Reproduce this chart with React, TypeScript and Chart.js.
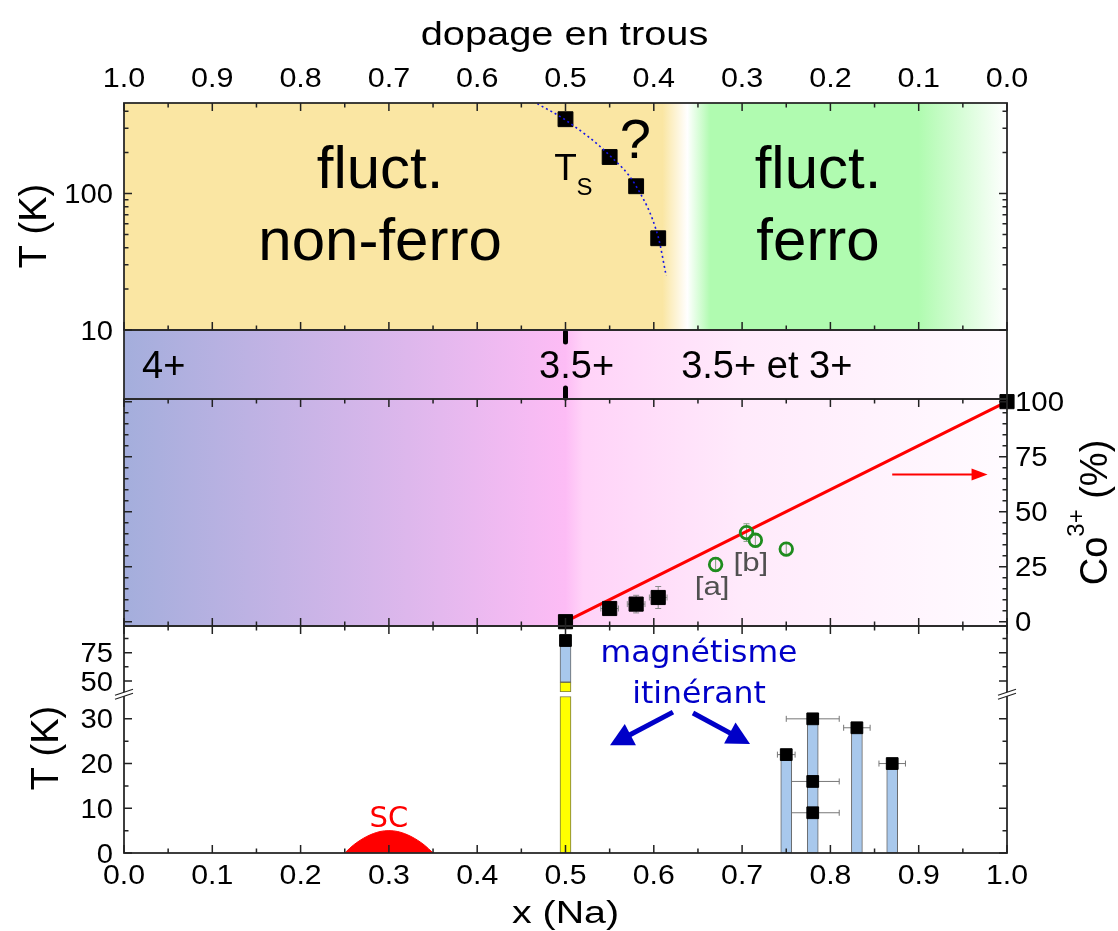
import React, { useEffect, useRef } from 'react';
import { Chart, registerables } from 'chart.js';

Chart.register(...registerables);

// ---------------- data ----------------
const xTickValues = [0, 0.1, 0.2, 0.3, 0.4, 0.5, 0.6, 0.7, 0.8, 0.9, 1.0];
const xTickLabels = ['0.0', '0.1', '0.2', '0.3', '0.4', '0.5', '0.6', '0.7', '0.8', '0.9', '1.0'];
const xMinorTicks = [0.05, 0.15, 0.25, 0.35, 0.45, 0.55, 0.65, 0.75, 0.85, 0.95];
const dopageTickValues = [1.0, 0.9, 0.8, 0.7, 0.6, 0.5, 0.4, 0.3, 0.2, 0.1, 0.0];
const dopageTickLabels = ['1.0', '0.9', '0.8', '0.7', '0.6', '0.5', '0.4', '0.3', '0.2', '0.1', '0.0'];

const topRange = [10, 460];
const topTMajor = [10, 100];
const topTMinor = [20, 30, 40, 50, 60, 70, 80, 90, 200, 300, 400];

const coRange = [-1.95, 101.2];
const coMajor = [0, 25, 50, 75, 100];
const coMinor = [5, 10, 15, 20, 30, 35, 40, 45, 55, 60, 65, 70, 80, 85, 90, 95];

const botUpperRange = [40.3, 98.6];
const botUpperMajor = [50, 75];
const botUpperMinor = [62.5, 87.5];
const botLowerRange = [0, 36];
const botLowerMajor = [0, 10, 20, 30];
const botLowerMinor = [5, 15, 25];

// T_S (structural transition) points and dotted guide
const tsX = [0.5, 0.55, 0.58, 0.605];
const tsT = [350, 185, 113, 47];
const tsCurveX = [0.468, 0.5, 0.55, 0.58, 0.605, 0.614];
const tsCurveT = [455, 345, 190, 113, 48, 25];

// Co3+ fraction
const co3LineX = [0.5, 1.0];
const co3LineY = [0, 100];
const co3SqX = [0.5, 0.55, 0.58, 0.605, 1.0];
const co3SqY = [0, 6, 8, 11, 100];
const co3SqXErr = [0, 0.01, 0.01, 0.01, 0];
const co3SqYErr = [0, 2, 4, 5, 0];
const co3CircX = [0.67, 0.705, 0.715, 0.75];
const co3CircY = [26, 40.5, 37, 33];
const co3CircYErr = [3, 4, 3, 3];

// bottom panel
const magBarX = [0.75, 0.78, 0.83, 0.87];
const magBarT = [22, 30, 28, 20];
const magPtX = [0.75, 0.78, 0.78, 0.78, 0.83, 0.87];
const magPtT = [22, 30, 16, 9, 28, 20];
const magPtXErr = [0.01, 0.03, 0.03, 0.03, 0.015, 0.015];
const na05X = 0.5;
const na05LowerYellow = [0, 35];
const na05UpperYellow = [40.3, 48.9];
const na05UpperBlue = [48.9, 81];
const na05PtT = [85.8];
const scX = [0.25, 0.26, 0.275, 0.29, 0.3, 0.31, 0.325, 0.34, 0.35];
const scT = [0, 1.8, 3.7, 4.8, 5, 4.8, 3.7, 1.8, 0];

// ---------------- styles ----------------
const W = 1118;
const H = 931;
const SANS = '"Liberation Sans", Arial, Helvetica, sans-serif';
const DEJAVU = '"DejaVu Sans", sans-serif';
const BLUE = '#0000C8';
const topBgStops: [number, string][] = [
  [0, '#FAE6A3'], [0.61, '#FAE6A3'], [0.638, '#FFFFFF'], [0.664, '#B0FBB0'], [0.9, '#B0FBB0'], [1, '#FFFFFF'],
];
const bandBgStops: [number, string][] = [
  [0, '#A4AEDC'], [0.5, '#FDBCF5'], [0.52, '#FFD3F8'], [0.7, '#FFEAFB'], [1, '#FFFBFF'],
];

const pts = (xs: number[], ys: number[]) => xs.map((x, i) => ({ x, y: ys[i] }));

function drawText(ctx: CanvasRenderingContext2D, s: string, x: number, y: number, size: number, opt: any = {}) {
  const { align = 'center', color = '#000', sx = 1, font = SANS, rot = 0 } = opt;
  ctx.save();
  ctx.translate(x, y);
  if (rot) ctx.rotate(rot);
  ctx.scale(sx, 1);
  ctx.font = `${size}px ${font}`;
  ctx.fillStyle = color;
  ctx.textAlign = align;
  ctx.textBaseline = 'alphabetic';
  ctx.fillText(s, 0, 0);
  ctx.restore();
}

function arrow(ctx: CanvasRenderingContext2D, x1: number, y1: number, x2: number, y2: number, color: string, lw: number, hl: number, hw: number) {
  const a = Math.atan2(y2 - y1, x2 - x1);
  const bx = x2 - hl * Math.cos(a);
  const by = y2 - hl * Math.sin(a);
  ctx.save();
  ctx.strokeStyle = color;
  ctx.fillStyle = color;
  ctx.lineWidth = lw;
  ctx.beginPath();
  ctx.moveTo(x1, y1);
  ctx.lineTo(bx + 2 * Math.cos(a), by + 2 * Math.sin(a));
  ctx.stroke();
  ctx.beginPath();
  ctx.moveTo(x2, y2);
  ctx.lineTo(bx + hw * Math.sin(a), by - hw * Math.cos(a));
  ctx.lineTo(bx - hw * Math.sin(a), by + hw * Math.cos(a));
  ctx.closePath();
  ctx.fill();
  ctx.restore();
}

function gradient(ctx: CanvasRenderingContext2D, xs: any, L: number, R: number, stops: [number, string][]) {
  const g = ctx.createLinearGradient(L, 0, R, 0);
  for (const [v, c] of stops) {
    g.addColorStop(Math.min(1, Math.max(0, (xs.getPixelForValue(v) - L) / (R - L))), c);
  }
  return g;
}

function errBars(ctx: CanvasRenderingContext2D, xs: any, ys: any, X: number[], Y: number[], xe: number[] | null, ye: number[] | null, color: string) {
  ctx.save();
  ctx.strokeStyle = color;
  ctx.lineWidth = 1;
  ctx.beginPath();
  X.forEach((xv, i) => {
    const px = xs.getPixelForValue(xv);
    const py = ys.getPixelForValue(Y[i]);
    if (xe && xe[i]) {
      const a = xs.getPixelForValue(xv - xe[i]);
      const b = xs.getPixelForValue(xv + xe[i]);
      ctx.moveTo(a, py); ctx.lineTo(b, py);
      ctx.moveTo(a, py - 3); ctx.lineTo(a, py + 3);
      ctx.moveTo(b, py - 3); ctx.lineTo(b, py + 3);
    }
    if (ye && ye[i]) {
      const a = ys.getPixelForValue(Y[i] - ye[i]);
      const b = ys.getPixelForValue(Y[i] + ye[i]);
      ctx.moveTo(px, a); ctx.lineTo(px, b);
      ctx.moveTo(px - 3, a); ctx.lineTo(px + 3, a);
      ctx.moveTo(px - 3, b); ctx.lineTo(px + 3, b);
    }
  });
  ctx.stroke();
  ctx.restore();
}

const phasePlugin = {
  id: 'phasePlugin',
  beforeDraw(chart: any) {
    const { ctx } = chart;
    ctx.save();
    ctx.fillStyle = '#FFFFFF';
    ctx.fillRect(0, 0, W, H);
    ctx.restore();
  },
  beforeDatasetsDraw(chart: any) {
    const { ctx, chartArea: ca, scales } = chart;
    const { x, yTop, yBand, yMid, yBotU, yBotL } = scales;
    const L = ca.left, R = ca.right;
    ctx.save();
    ctx.fillStyle = gradient(ctx, x, L, R, topBgStops);
    ctx.fillRect(L, yTop.top, R - L, yTop.bottom - yTop.top);
    const bg = gradient(ctx, x, L, R, bandBgStops);
    ctx.fillStyle = bg;
    ctx.fillRect(L, yBand.top, R - L, yBand.bottom - yBand.top);
    ctx.fillRect(L, yMid.top, R - L, yMid.bottom - yMid.top);
    ctx.fillStyle = '#FFFFFF';
    ctx.fillRect(L, yBotU.top, R - L, yBotL.bottom - yBotU.top);
    ctx.restore();
    errBars(ctx, x, yMid, co3SqX, co3SqY, co3SqXErr, co3SqYErr, '#8a8a8a');
    errBars(ctx, x, yMid, co3CircX, co3CircY, null, co3CircYErr, '#7fa07f');
    errBars(ctx, x, yBotL, magPtX, magPtT, magPtXErr, null, '#777777');
  },
  afterDatasetsDraw(chart: any) {
    const { ctx, chartArea: ca, scales } = chart;
    const { x, xTop, yTop, yBand, yMid, yBotU, yBotL } = scales;
    const L = ca.left, R = ca.right;
    const TICK = 8, MINOR = 4.5;

    // dashed 3.5+ marker
    ctx.save();
    ctx.strokeStyle = '#000';
    ctx.lineWidth = 5;
    ctx.lineCap = 'round';
    const p5 = x.getPixelForValue(0.5);
    ctx.beginPath();
    ctx.moveTo(p5, yBand.top + 2); ctx.lineTo(p5, yBand.top + 12);
    ctx.moveTo(p5, yBand.bottom - 11); ctx.lineTo(p5, yBand.bottom - 1);
    ctx.stroke();
    ctx.restore();

    // frames
    ctx.save();
    ctx.strokeStyle = '#2a2a2a';
    ctx.lineWidth = 1.8;
    ctx.strokeRect(L, yTop.top, R - L, yTop.bottom - yTop.top);
    ctx.strokeRect(L, yBand.top, R - L, yBand.bottom - yBand.top);
    ctx.strokeRect(L, yMid.top, R - L, yMid.bottom - yMid.top);
    ctx.strokeRect(L, yBotU.top, R - L, yBotL.bottom - yBotU.top);
    ctx.restore();

    // ticks
    ctx.save();
    ctx.strokeStyle = '#222';
    ctx.lineWidth = 1.5;
    ctx.beginPath();
    const xEdges: [number, number][] = [
      [yTop.top, 1], [yTop.bottom, -1], [yMid.top, 1], [yMid.bottom, -1], [yBotU.top, 1], [yBotL.bottom, -1],
    ];
    for (const [yy, d] of xEdges) {
      xTickValues.forEach((v) => { const p = x.getPixelForValue(v); ctx.moveTo(p, yy); ctx.lineTo(p, yy + d * TICK); });
      xMinorTicks.forEach((v) => { const p = x.getPixelForValue(v); ctx.moveTo(p, yy); ctx.lineTo(p, yy + d * MINOR); });
    }
    const yTicks = (sc: any, major: number[], minor: number[]) => {
      major.forEach((v) => { const p = sc.getPixelForValue(v); ctx.moveTo(L, p); ctx.lineTo(L + TICK, p); ctx.moveTo(R, p); ctx.lineTo(R - TICK, p); });
      minor.forEach((v) => { const p = sc.getPixelForValue(v); ctx.moveTo(L, p); ctx.lineTo(L + MINOR, p); ctx.moveTo(R, p); ctx.lineTo(R - MINOR, p); });
    };
    yTicks(yTop, topTMajor, topTMinor);
    yTicks(yMid, coMajor, coMinor);
    yTicks(yBotU, botUpperMajor, botUpperMinor);
    yTicks(yBotL, botLowerMajor, botLowerMinor);
    ctx.stroke();
    // axis break marks
    const yb = (yBotU.bottom + yBotL.getPixelForValue(na05LowerYellow[1])) / 2;
    for (const xx of [L, R]) {
      ctx.fillStyle = '#fff';
      ctx.beginPath();
      ctx.moveTo(xx - 9, yb + 1); ctx.lineTo(xx + 9, yb - 5); ctx.lineTo(xx + 9, yb - 1); ctx.lineTo(xx - 9, yb + 5); ctx.closePath();
      ctx.fill();
      ctx.beginPath();
      ctx.moveTo(xx - 9, yb + 1); ctx.lineTo(xx + 9, yb - 5);
      ctx.moveTo(xx - 9, yb + 5); ctx.lineTo(xx + 9, yb - 1);
      ctx.lineWidth = 1.2;
      ctx.stroke();
    }
    ctx.restore();

    // tick labels
    dopageTickValues.forEach((v, i) => drawText(ctx, dopageTickLabels[i], xTop.getPixelForValue(v), yTop.top - 16, 27, { sx: 1.13 }));
    xTickValues.forEach((v, i) => drawText(ctx, xTickLabels[i], x.getPixelForValue(v), yBotL.bottom + 31, 27, { sx: 1.12 }));
    topTMajor.forEach((v) => drawText(ctx, String(v), L - 11, yTop.getPixelForValue(v) + 9.5, 27, { align: 'right', sx: 1.08 }));
    botUpperMajor.forEach((v) => drawText(ctx, String(v), L - 11, yBotU.getPixelForValue(v) + 9.5, 27, { align: 'right', sx: 1.08 }));
    botLowerMajor.forEach((v) => drawText(ctx, String(v), L - 11, yBotL.getPixelForValue(v) + 9.5, 27, { align: 'right', sx: 1.08 }));
    coMajor.forEach((v) => drawText(ctx, String(v), R + 8, yMid.getPixelForValue(v) + 9.5, 28, { align: 'left', sx: 1.05 }));

    // axis titles
    const cx = (L + R) / 2;
    drawText(ctx, 'dopage en trous', cx - 1, 45, 34, { sx: 1.17 });
    drawText(ctx, 'x (Na)', cx, 923, 31, { sx: 1.27 });
    drawText(ctx, 'T (K)', 46, 226, 38, { rot: -Math.PI / 2 });
    drawText(ctx, 'T (K)', 58, 748, 38, { rot: -Math.PI / 2 });
    // Co3+ (%)
    ctx.save();
    ctx.translate(1107, (yMid.top + yMid.bottom) / 2);
    ctx.rotate(-Math.PI / 2);
    ctx.fillStyle = '#000';
    ctx.textBaseline = 'alphabetic';
    ctx.textAlign = 'left';
    ctx.font = `38px ${SANS}`;
    const wCo = ctx.measureText('Co').width;
    const wPc = ctx.measureText(' (%)').width;
    ctx.font = `24px ${SANS}`;
    const wSup = ctx.measureText('3+').width;
    const sx0 = -(wCo + wSup + wPc) / 2;
    ctx.font = `38px ${SANS}`;
    ctx.fillText('Co', sx0, 0);
    ctx.font = `24px ${SANS}`;
    ctx.fillText('3+', sx0 + wCo, -23);
    ctx.font = `38px ${SANS}`;
    ctx.fillText(' (%)', sx0 + wCo + wSup, 0);
    ctx.restore();

    // region labels (top)
    const pl = x.getPixelForValue(0.29);
    const pr = x.getPixelForValue(0.786);
    drawText(ctx, 'fluct.', pl, yTop.top + 85, 60);
    drawText(ctx, 'non-ferro', pl, yTop.top + 157, 60);
    drawText(ctx, 'fluct.', pr, yTop.top + 85, 60);
    drawText(ctx, 'ferro', pr, yTop.top + 157, 60);
    drawText(ctx, 'T', x.getPixelForValue(0.5), yTop.top + 77, 37);
    drawText(ctx, 'S', x.getPixelForValue(0.5) + 11, yTop.top + 92, 24, { align: 'left' });
    drawText(ctx, '?', x.getPixelForValue(0.579), yTop.top + 55, 56);

    // band labels
    const bandBase = yBand.top + 48;
    drawText(ctx, '4+', x.getPixelForValue(0.0204), bandBase, 38, { align: 'left' });
    ctx.save();
    ctx.font = `38px ${SANS}`;
    const w3 = ctx.measureText('3').width;
    const wd = ctx.measureText('.').width;
    ctx.restore();
    drawText(ctx, '3.5+', p5 - w3 - wd / 2, bandBase, 38, { align: 'left' });
    drawText(ctx, '3.5+ et 3+', x.getPixelForValue(0.631), bandBase, 38, { align: 'left' });

    // middle panel annotations
    drawText(ctx, '[a]', x.getPixelForValue(0.666), yMid.getPixelForValue(12), 25, { color: '#505050', sx: 1.25 });
    drawText(ctx, '[b]', x.getPixelForValue(0.710), yMid.getPixelForValue(23), 25, { color: '#505050', sx: 1.25 });
    arrow(ctx, x.getPixelForValue(0.87), yMid.getPixelForValue(66.9), x.getPixelForValue(0.978), yMid.getPixelForValue(66.9), '#FF0000', 2, 16, 6);

    // bottom panel annotations
    const mx = x.getPixelForValue(0.6512);
    drawText(ctx, 'magnétisme', mx, yBotU.top + 36, 30, { font: DEJAVU, color: BLUE, sx: 1.05 });
    drawText(ctx, 'itinérant', mx, yBotU.top + 77, 30, { font: DEJAVU, color: BLUE, sx: 1.05 });
    arrow(ctx, x.getPixelForValue(0.6217), yBotL.getPixelForValue(31.5), x.getPixelForValue(0.5504), yBotL.getPixelForValue(24.1), BLUE, 5, 23, 12);
    arrow(ctx, x.getPixelForValue(0.6444), yBotL.getPixelForValue(31.3), x.getPixelForValue(0.709), yBotL.getPixelForValue(24.4), BLUE, 5, 23, 12);
    drawText(ctx, 'SC', x.getPixelForValue(0.3), yBotL.getPixelForValue(5.8), 29, { font: DEJAVU, color: '#FF0000' });
  },
};

export default function App() {
  const ref = useRef<HTMLCanvasElement>(null);
  useEffect(() => {
    const canvas = ref.current as HTMLCanvasElement;
    const hidden = { display: false, bounds: 'data', offset: false, grid: { offset: false } };
    const chart = new Chart(canvas, {
      type: 'scatter',
      data: {
        datasets: [
          {
            type: 'line', label: 'Ts guide', data: pts(tsCurveX, tsCurveT), xAxisID: 'x', yAxisID: 'yTop',
            borderColor: '#1515E6', borderWidth: 1.6, borderDash: [2, 3], pointRadius: 0,
            cubicInterpolationMode: 'monotone', fill: false, order: 1, clip: false,
          },
          {
            type: 'scatter', label: 'Ts', data: pts(tsX, tsT), xAxisID: 'x', yAxisID: 'yTop',
            pointStyle: 'rect', pointRadius: 10.5, backgroundColor: '#000', borderColor: '#000', borderWidth: 1, order: 2, clip: false,
          },
          {
            type: 'scatter', label: 'Co3+ squares', data: pts(co3SqX, co3SqY), xAxisID: 'x', yAxisID: 'yMid',
            pointStyle: 'rect', pointRadius: 10, backgroundColor: '#000', borderColor: '#000', borderWidth: 1, order: 3, clip: false,
          },
          {
            type: 'scatter', label: 'Co3+ [a][b]', data: pts(co3CircX, co3CircY), xAxisID: 'x', yAxisID: 'yMid',
            pointStyle: 'circle', pointRadius: 6.3, backgroundColor: 'rgba(0,0,0,0)', borderColor: '#1E8C1E', borderWidth: 2.8, order: 4, clip: false,
          },
          {
            type: 'line', label: 'Co3+ line', data: pts(co3LineX, co3LineY), xAxisID: 'x', yAxisID: 'yMid',
            borderColor: '#FF0000', borderWidth: 3, pointRadius: 0, fill: false, order: 5, clip: false,
          },
          {
            type: 'scatter', label: 'T mag', data: pts(magPtX, magPtT), xAxisID: 'x', yAxisID: 'yBotL',
            pointStyle: 'rect', pointRadius: 8.3, backgroundColor: '#000', borderColor: '#000', borderWidth: 1, order: 6, clip: false,
          },
          {
            type: 'scatter', label: 'T 0.5', data: na05PtT.map((t) => ({ x: na05X, y: t })), xAxisID: 'x', yAxisID: 'yBotU',
            pointStyle: 'rect', pointRadius: 8.3, backgroundColor: '#000', borderColor: '#000', borderWidth: 1, order: 6, clip: false,
          },
          {
            type: 'bar', label: 'mag bars', data: magBarX.map((bx, i) => ({ x: bx, y: [0, magBarT[i]] })), xAxisID: 'x', yAxisID: 'yBotL',
            backgroundColor: '#A8C8EC', borderColor: '#666', borderWidth: 1, barThickness: 11, grouped: false, borderSkipped: false, order: 8,
          },
          {
            type: 'bar', label: '0.5 yellow low', data: [{ x: na05X, y: na05LowerYellow }], xAxisID: 'x', yAxisID: 'yBotL',
            backgroundColor: '#FFFF00', borderColor: '#777744', borderWidth: 1, barThickness: 11, grouped: false, borderSkipped: false, order: 8,
          },
          {
            type: 'bar', label: '0.5 yellow up', data: [{ x: na05X, y: na05UpperYellow }], xAxisID: 'x', yAxisID: 'yBotU',
            backgroundColor: '#FFFF00', borderColor: '#777744', borderWidth: 1, barThickness: 11, grouped: false, borderSkipped: false, order: 8,
          },
          {
            type: 'bar', label: '0.5 blue up', data: [{ x: na05X, y: na05UpperBlue }], xAxisID: 'x', yAxisID: 'yBotU',
            backgroundColor: '#A8C8EC', borderColor: '#666', borderWidth: 1, barThickness: 11, grouped: false, borderSkipped: false, order: 8,
          },
          {
            type: 'line', label: 'SC', data: pts(scX, scT), xAxisID: 'x', yAxisID: 'yBotL',
            borderColor: '#FF0000', backgroundColor: '#FF0000', borderWidth: 1, pointRadius: 0,
            cubicInterpolationMode: 'monotone', fill: 'origin', order: 9,
          },
        ] as any,
      },
      options: {
        responsive: false,
        animation: false,
        devicePixelRatio: 1,
        events: [],
        layout: { padding: { left: 124, right: 111, top: 103, bottom: 78 } },
        plugins: { legend: { display: false }, tooltip: { enabled: false }, title: { display: false } },
        scales: {
          x: { type: 'linear', position: 'bottom', min: 0, max: 1, ...hidden },
          xTop: { type: 'linear', position: 'top', min: 0, max: 1, reverse: true, ...hidden },
          yTop: { type: 'logarithmic', position: 'left', min: topRange[0], max: topRange[1], stack: 'v', stackWeight: 227, weight: 5, ...hidden },
          yBand: { type: 'linear', position: 'left', min: 0, max: 1, stack: 'v', stackWeight: 69, weight: 4, ...hidden },
          yMid: { type: 'linear', position: 'left', min: coRange[0], max: coRange[1], stack: 'v', stackWeight: 227, weight: 3, ...hidden },
          yBotU: { type: 'linear', position: 'left', min: botUpperRange[0], max: botUpperRange[1], stack: 'v', stackWeight: 66, weight: 2, ...hidden },
          yBotL: { type: 'linear', position: 'left', min: botLowerRange[0], max: botLowerRange[1], stack: 'v', stackWeight: 161, weight: 1, ...hidden },
        } as any,
      },
      plugins: [phasePlugin],
    } as any);
    return () => chart.destroy();
  }, []);
  return (
    <div style={{ position: 'absolute', left: 0, top: 0, width: W, height: H, background: '#fff' }}>
      <canvas ref={ref} width={W} height={H} style={{ display: 'block', width: W, height: H }} />
    </div>
  );
}
